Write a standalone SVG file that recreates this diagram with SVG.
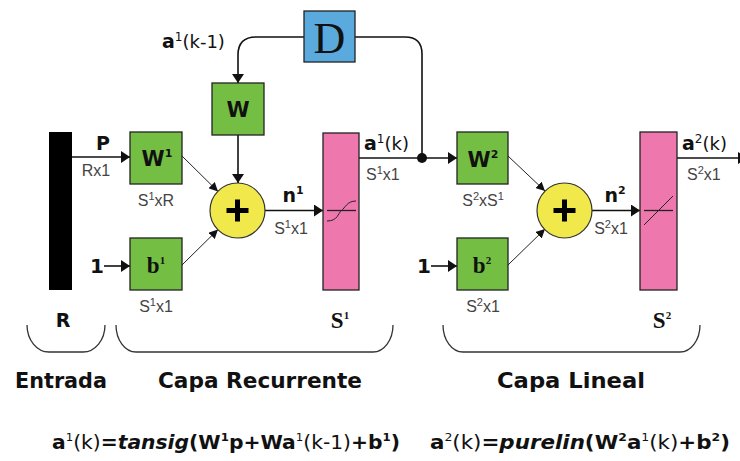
<svg xmlns="http://www.w3.org/2000/svg" width="740" height="461" viewBox="0 0 740 461">
  <style>
    .box{stroke:#222;stroke-width:1.3}
    .green{fill:#74bf43}
    .pink{fill:#ee77ad}
    .sum{fill:#f1e94b;stroke:#333;stroke-width:1.2}
    .blue{fill:#5aaade}
    .ln{stroke:#111;stroke-width:1.6;fill:none}
    .thin{stroke:#222;stroke-width:1;fill:none}
    .brace{stroke:#333;stroke-width:1.3;fill:none}
    .txt{font-family:"DejaVu Sans",Verdana,sans-serif;fill:#111}
    .dim{font-family:"Liberation Sans",Arial,sans-serif;font-size:16px;fill:#444}
    .bold{font-weight:bold}
    .serif{font-family:"Liberation Serif","Times New Roman",serif;fill:#111}
    .sup{font-size:11px}
  </style>
  <defs>
    <marker id="ah" viewBox="0 0 10 10" refX="10" refY="5" markerUnits="userSpaceOnUse" markerWidth="9" markerHeight="12" orient="auto" preserveAspectRatio="none">
      <path d="M0,0 L10,5 L0,10 z" fill="#111"/>
    </marker>
    <marker id="ahs" viewBox="0 0 10 10" refX="10" refY="5" markerUnits="userSpaceOnUse" markerWidth="9" markerHeight="9" orient="auto" preserveAspectRatio="none">
      <path d="M0,0 L10,5 L0,10 z" fill="#111"/>
    </marker>
  </defs>

  <rect width="740" height="461" fill="#fff"/>

  <!-- connectors -->
  <g id="connectors">
    <line class="ln" x1="72" y1="157" x2="130" y2="157" marker-end="url(#ah)"/>
    <line class="ln" x1="104" y1="266" x2="130" y2="266" marker-end="url(#ah)"/>
    <line class="ln" x1="431" y1="266" x2="457" y2="266" marker-end="url(#ah)"/>
    <path class="ln" d="M304,37 H256 Q238,37 238,55 V83" marker-end="url(#ah)"/>
    <line class="ln" x1="238" y1="135" x2="238" y2="183" marker-end="url(#ah)"/>
    <line class="thin" x1="182" y1="156" x2="218" y2="191.5" marker-end="url(#ahs)"/>
    <line class="thin" x1="182" y1="265" x2="218" y2="229.5" marker-end="url(#ahs)"/>
    <line class="ln" x1="265" y1="210.5" x2="323" y2="210.5" marker-end="url(#ah)"/>
    <path class="ln" d="M355,37 H405 Q422,37 422,54 V158"/>
    <line class="ln" x1="359" y1="158" x2="457" y2="158" marker-end="url(#ah)"/>
    <circle cx="422" cy="158" r="5" fill="#111"/>
    <line class="thin" x1="508" y1="156" x2="545" y2="191" marker-end="url(#ahs)"/>
    <line class="thin" x1="508" y1="265" x2="545" y2="229" marker-end="url(#ahs)"/>
    <line class="ln" x1="592" y1="210.5" x2="640" y2="210.5" marker-end="url(#ah)"/>
    <line class="ln" x1="677" y1="158" x2="747" y2="158" marker-end="url(#ah)"/>
  </g>

  <!-- input vector -->
  <g id="input">
    <rect x="49" y="132" width="23" height="158" fill="#000"/>
    <text class="txt bold" x="103" y="150" font-size="19" text-anchor="middle">P</text>
    <text class="dim" x="96" y="176" text-anchor="middle">Rx1</text>
    <text class="txt bold" x="63" y="327" font-size="19" text-anchor="middle">R</text>
  </g>

  <!-- recurrent layer -->
  <g id="delay">
    <rect class="box blue" x="304" y="11" width="51" height="51"/>
    <text class="serif" x="329.5" y="53" font-size="44" text-anchor="middle">D</text>
    <text class="txt" x="162" y="48" font-size="18"><tspan class="bold" font-size="19">a</tspan><tspan font-size="12" dy="-7">1</tspan><tspan dy="7">(k-1)</tspan></text>
  </g>

  <g id="W">
    <rect class="box green" x="212" y="83" width="52" height="52"/>
    <text class="txt bold" x="238" y="117" font-size="21" text-anchor="middle">W</text>
  </g>

  <g id="W1">
    <rect class="box green" x="130" y="132" width="52" height="52"/>
    <text class="txt bold" x="157" y="166" font-size="21" text-anchor="middle">W<tspan class="sup" dy="-9">1</tspan></text>
    <text class="dim" x="156" y="206" text-anchor="middle">S<tspan class="sup" dy="-6">1</tspan><tspan dy="6">xR</tspan></text>
  </g>

  <g id="b1">
    <rect class="box green" x="130" y="238" width="52" height="52"/>
    <text class="serif bold" x="156" y="273" font-size="23" text-anchor="middle">b<tspan font-size="11" dy="-9">1</tspan></text>
    <text class="txt bold" x="97" y="273" font-size="20" text-anchor="middle">1</text>
    <text class="dim" x="156" y="312" text-anchor="middle">S<tspan class="sup" dy="-6">1</tspan><tspan dy="6">x1</tspan></text>
  </g>

  <g id="sum1">
    <circle class="sum" cx="237.5" cy="210.5" r="27.5"/>
    <path d="M226.5,210.5 H248.5 M237.5,199.5 V221.5" stroke="#000" stroke-width="5"/>
    <text class="txt bold" x="293" y="202" font-size="19" text-anchor="middle">n<tspan class="sup" dy="-8">1</tspan></text>
    <text class="dim" x="291" y="234" text-anchor="middle">S<tspan class="sup" dy="-6">1</tspan><tspan dy="6">x1</tspan></text>
  </g>

  <g id="tansig">
    <rect class="box pink" x="323" y="133" width="36" height="157"/>
    <line x1="327" y1="210.5" x2="356" y2="210.5" stroke="#222" stroke-width="1.3"/>
    <path d="M327,221 C338,221 338,213 341.5,210.5 C345,208 347,201 356,201" fill="none" stroke="#222" stroke-width="1"/>
    <text class="txt" x="364" y="150" font-size="18"><tspan class="bold" font-size="19">a</tspan><tspan font-size="12" dy="-7">1</tspan><tspan dy="7">(k)</tspan></text>
    <text class="dim" x="366" y="180">S<tspan class="sup" dy="-6">1</tspan><tspan dy="6">x1</tspan></text>
    <text class="serif bold" x="340" y="328" font-size="23" text-anchor="middle">S<tspan font-size="11" dy="-9">1</tspan></text>
  </g>

  <!-- linear layer -->
  <g id="W2">
    <rect class="box green" x="457" y="132" width="51" height="52"/>
    <text class="txt bold" x="483" y="167" font-size="21" text-anchor="middle">W<tspan class="sup" dy="-9">2</tspan></text>
    <text class="dim" x="483" y="206" text-anchor="middle">S<tspan class="sup" dy="-6">2</tspan><tspan dy="6">xS</tspan><tspan class="sup" dy="-6">1</tspan></text>
  </g>

  <g id="b2">
    <rect class="box green" x="457" y="238" width="51" height="52"/>
    <text class="serif bold" x="482" y="273" font-size="23" text-anchor="middle">b<tspan font-size="11" dy="-9">2</tspan></text>
    <text class="txt bold" x="424" y="273" font-size="20" text-anchor="middle">1</text>
    <text class="dim" x="483" y="312" text-anchor="middle">S<tspan class="sup" dy="-6">2</tspan><tspan dy="6">x1</tspan></text>
  </g>

  <g id="sum2">
    <circle class="sum" cx="564.5" cy="210.5" r="27.5"/>
    <path d="M553.5,210.5 H575.5 M564.5,199.5 V221.5" stroke="#000" stroke-width="5"/>
    <text class="txt bold" x="615" y="202" font-size="19" text-anchor="middle">n<tspan class="sup" dy="-8">2</tspan></text>
    <text class="dim" x="611" y="234" text-anchor="middle">S<tspan class="sup" dy="-6">2</tspan><tspan dy="6">x1</tspan></text>
  </g>

  <g id="purelin">
    <rect class="box pink" x="640" y="132" width="37" height="158"/>
    <line x1="644" y1="210.5" x2="673" y2="210.5" stroke="#222" stroke-width="1.3"/>
    <line x1="644" y1="225" x2="673" y2="196" stroke="#222" stroke-width="1"/>
    <text class="txt" x="682" y="150" font-size="18"><tspan class="bold" font-size="19">a</tspan><tspan font-size="12" dy="-7">2</tspan><tspan dy="7">(k)</tspan></text>
    <text class="dim" x="687" y="180">S<tspan class="sup" dy="-6">2</tspan><tspan dy="6">x1</tspan></text>
    <text class="serif bold" x="662" y="328" font-size="23" text-anchor="middle">S<tspan font-size="11" dy="-9">2</tspan></text>
  </g>

  <!-- layer braces and captions -->
  <g id="braces">
    <path class="brace" d="M27,325 A22,27 0 0 0 49,352 H83 A22,27 0 0 0 105,325"/>
    <path class="brace" d="M116,325 A20,27 0 0 0 136,352 H373 A20,27 0 0 0 393,325"/>
    <path class="brace" d="M443,325 A20,27 0 0 0 463,352 H680 A20,27 0 0 0 700,325"/>
    <text class="txt bold" x="15" y="388" font-size="21" textLength="92" lengthAdjust="spacingAndGlyphs">Entrada</text>
    <text class="txt bold" x="158" y="388" font-size="21" textLength="204" lengthAdjust="spacingAndGlyphs">Capa Recurrente</text>
    <text class="txt bold" x="497" y="388" font-size="21" textLength="148" lengthAdjust="spacingAndGlyphs">Capa Lineal</text>
  </g>

  <!-- layer equations -->
  <g id="equations">
    <text class="txt" x="52" y="449" font-size="19" textLength="348" lengthAdjust="spacingAndGlyphs"><tspan class="bold">a</tspan><tspan font-size="11" dy="-8">1</tspan><tspan dy="8">(k)</tspan><tspan class="bold">=</tspan><tspan class="bold" font-style="italic">tansig</tspan><tspan class="bold">(W</tspan><tspan class="bold" font-size="11" dy="-8">1</tspan><tspan class="bold" dy="8">p+Wa</tspan><tspan font-size="11" dy="-8">1</tspan><tspan dy="8">(k-1)</tspan><tspan class="bold">+b</tspan><tspan class="bold" font-size="11" dy="-8">1</tspan><tspan class="bold" dy="8">)</tspan></text>
    <text class="txt" x="430" y="449" font-size="19" textLength="300" lengthAdjust="spacingAndGlyphs"><tspan class="bold">a</tspan><tspan font-size="11" dy="-8">2</tspan><tspan dy="8">(k)</tspan><tspan class="bold">=</tspan><tspan class="bold" font-style="italic">purelin</tspan><tspan class="bold">(W</tspan><tspan class="bold" font-size="11" dy="-8">2</tspan><tspan class="bold" dy="8">a</tspan><tspan font-size="11" dy="-8">1</tspan><tspan dy="8">(k)</tspan><tspan class="bold">+b</tspan><tspan class="bold" font-size="11" dy="-8">2</tspan><tspan class="bold" dy="8">)</tspan></text>
  </g>
</svg>
